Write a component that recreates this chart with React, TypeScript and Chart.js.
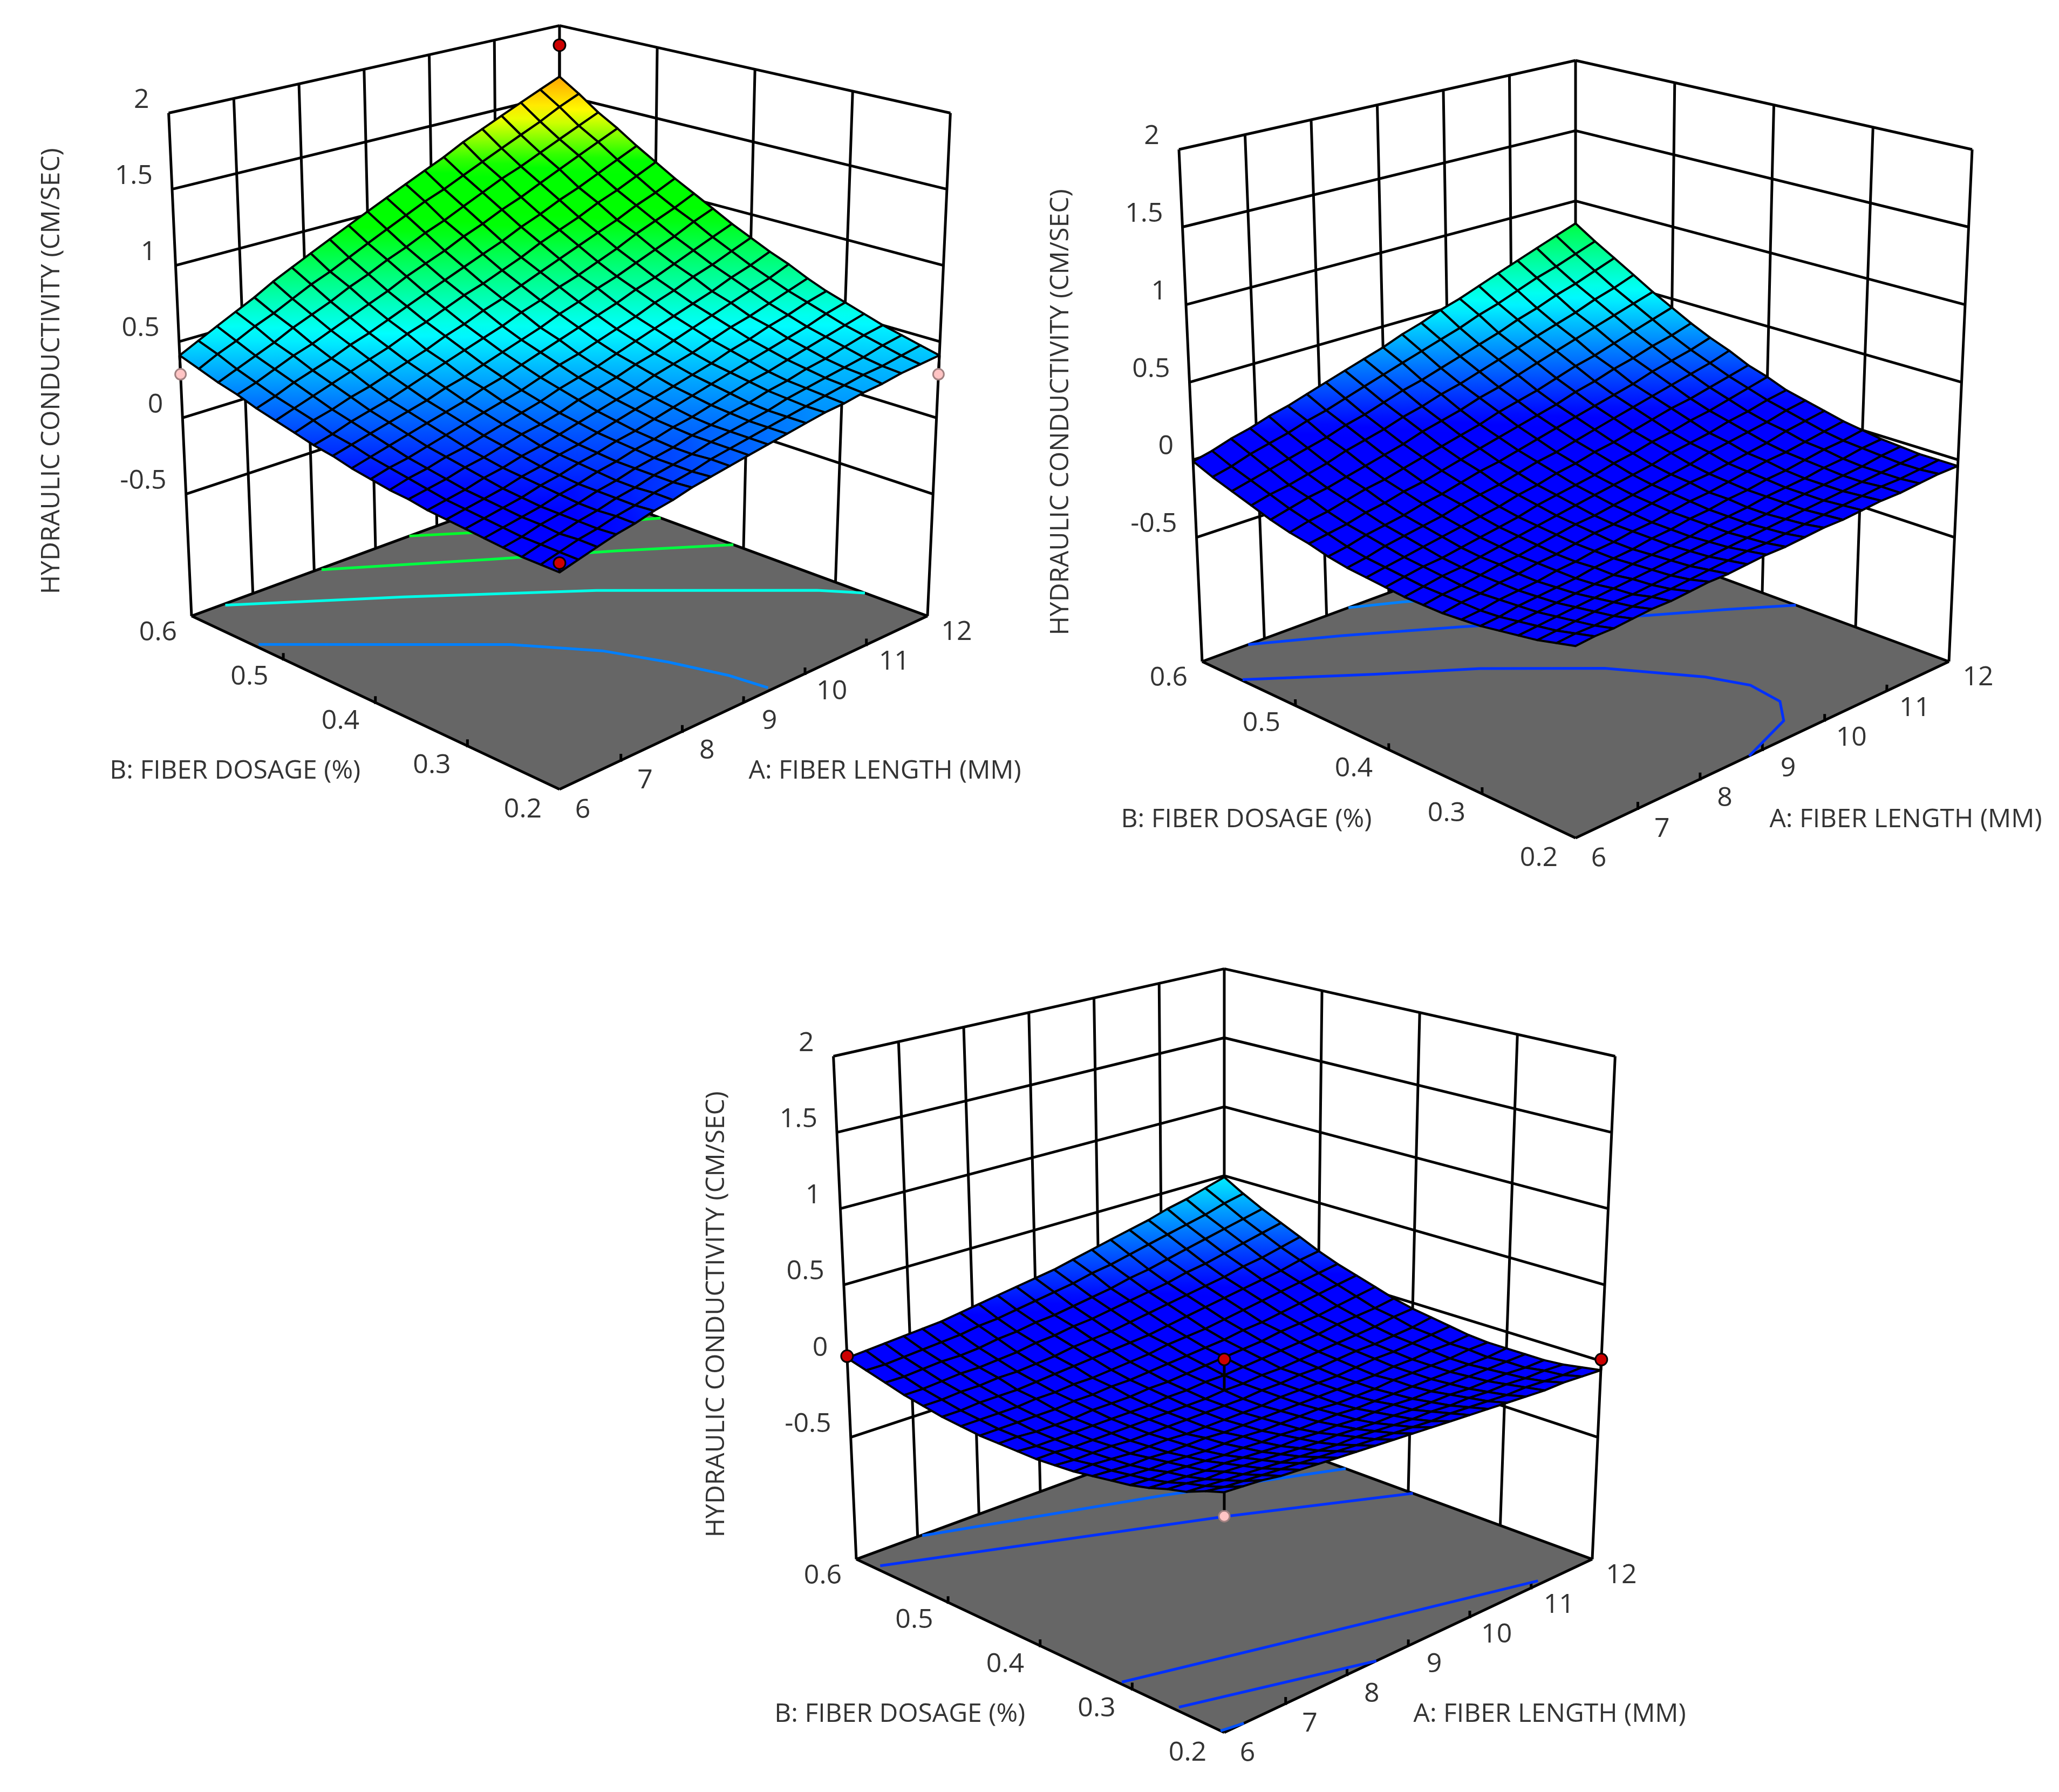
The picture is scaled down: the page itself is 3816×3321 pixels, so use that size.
import React, { useEffect, useRef } from 'react';
import { Chart, registerables } from 'chart.js';

Chart.register(...registerables);

const A_TICKS = [6, 7, 8, 9, 10, 11, 12];
const B_TICKS = [0.2, 0.3, 0.4, 0.5, 0.6];
const Z_TICKS = [-0.5, 0, 0.5, 1, 1.5, 2];
const Z_FLOOR = -1.3;
const Z_TOP = 2;

// rows go from B = 0.2 to B = 0.6, columns from A = 6 to A = 12
const surfaceOne = [
  [0,.03,.06,.09,.11,.14,.16,.19,.21,.23,.25,.27,.29,.31,.33,.34,.36,.37,.39,.40,.41],
  [0,.03,.06,.08,.11,.13,.16,.18,.20,.23,.25,.27,.29,.31,.33,.35,.37,.39,.40,.42,.44],
  [0,.03,.05,.08,.10,.13,.15,.18,.20,.22,.25,.27,.29,.31,.34,.36,.38,.40,.42,.45,.47],
  [.01,.03,.06,.08,.10,.13,.15,.18,.20,.22,.25,.27,.30,.32,.35,.37,.40,.42,.45,.48,.50],
  [.02,.04,.06,.08,.11,.13,.16,.18,.21,.23,.26,.28,.31,.34,.37,.39,.42,.45,.48,.51,.54],
  [.03,.05,.07,.09,.12,.14,.17,.19,.22,.24,.27,.30,.33,.36,.39,.42,.45,.48,.51,.55,.58],
  [.04,.06,.08,.10,.13,.15,.18,.20,.23,.26,.29,.32,.35,.38,.41,.45,.48,.52,.55,.59,.62],
  [.05,.07,.09,.12,.14,.17,.19,.22,.25,.28,.31,.34,.38,.41,.44,.48,.52,.55,.59,.63,.67],
  [.07,.09,.11,.14,.16,.19,.22,.24,.27,.31,.34,.37,.41,.44,.48,.52,.56,.60,.64,.68,.73],
  [.08,.11,.13,.16,.18,.21,.24,.27,.30,.34,.37,.40,.44,.48,.52,.56,.60,.64,.69,.73,.78],
  [.10,.13,.15,.18,.21,.24,.27,.30,.33,.37,.41,.44,.48,.52,.56,.61,.65,.70,.74,.79,.84],
  [.12,.15,.18,.21,.24,.27,.30,.34,.37,.41,.45,.49,.53,.57,.61,.66,.70,.75,.80,.85,.90],
  [.15,.18,.21,.24,.27,.30,.34,.37,.41,.45,.49,.53,.58,.62,.67,.71,.76,.81,.86,.92,.97],
  [.17,.20,.24,.27,.30,.34,.38,.42,.46,.50,.54,.59,.63,.68,.72,.77,.82,.88,.93,.98,1.04],
  [.20,.24,.27,.31,.34,.38,.42,.46,.51,.55,.60,.64,.69,.74,.79,.84,.89,.94,1.00,1.05,1.11],
  [.23,.27,.31,.35,.39,.43,.47,.52,.56,.61,.66,.70,.75,.80,.86,.91,.96,1.02,1.07,1.13,1.19],
  [.26,.30,.35,.39,.43,.48,.52,.57,.62,.67,.72,.77,.82,.87,.93,.98,1.04,1.09,1.15,1.21,1.27],
  [.30,.34,.39,.44,.48,.53,.58,.63,.68,.74,.79,.84,.90,.95,1.01,1.06,1.12,1.18,1.24,1.30,1.36],
  [.33,.38,.43,.48,.54,.59,.64,.70,.75,.81,.86,.92,.97,1.03,1.09,1.15,1.20,1.26,1.32,1.38,1.44],
  [.37,.43,.48,.54,.59,.65,.71,.76,.82,.88,.94,1.00,1.06,1.11,1.17,1.23,1.29,1.35,1.41,1.48,1.54],
  [.41,.47,.53,.59,.65,.72,.78,.84,.90,.96,1.02,1.08,1.14,1.20,1.26,1.33,1.39,1.45,1.51,1.57,1.63],
];

const surfaceTwo = [
  [-.17,-.16,-.16,-.15,-.14,-.14,-.13,-.12,-.12,-.11,-.10,-.10,-.09,-.08,-.08,-.07,-.06,-.06,-.05,-.04,-.04],
  [-.20,-.19,-.19,-.18,-.17,-.16,-.16,-.15,-.14,-.13,-.12,-.12,-.11,-.10,-.09,-.08,-.07,-.06,-.06,-.05,-.04],
  [-.23,-.22,-.21,-.20,-.19,-.19,-.18,-.17,-.16,-.15,-.14,-.13,-.12,-.11,-.10,-.09,-.08,-.07,-.06,-.05,-.04],
  [-.25,-.24,-.23,-.22,-.21,-.20,-.19,-.18,-.17,-.16,-.15,-.14,-.13,-.12,-.10,-.09,-.08,-.07,-.06,-.04,-.03],
  [-.27,-.26,-.25,-.24,-.23,-.22,-.21,-.19,-.18,-.17,-.16,-.14,-.13,-.12,-.10,-.09,-.08,-.06,-.05,-.03,-.02],
  [-.29,-.28,-.26,-.25,-.24,-.23,-.21,-.20,-.19,-.17,-.16,-.14,-.13,-.11,-.10,-.08,-.07,-.05,-.03,-.02,0],
  [-.30,-.29,-.27,-.26,-.25,-.23,-.22,-.20,-.19,-.17,-.16,-.14,-.12,-.11,-.09,-.07,-.05,-.04,-.02,0,.02],
  [-.31,-.29,-.28,-.26,-.25,-.23,-.22,-.20,-.18,-.17,-.15,-.13,-.11,-.09,-.08,-.06,-.04,-.02,.01,.03,.05],
  [-.31,-.29,-.28,-.26,-.24,-.23,-.21,-.19,-.17,-.16,-.14,-.12,-.10,-.08,-.06,-.03,-.01,.01,.03,.06,.08],
  [-.31,-.29,-.27,-.26,-.24,-.22,-.20,-.18,-.16,-.14,-.12,-.10,-.08,-.06,-.03,-.01,.01,.04,.06,.09,.11],
  [-.30,-.28,-.26,-.25,-.23,-.21,-.19,-.17,-.14,-.12,-.10,-.08,-.05,-.03,0,.02,.05,.07,.10,.13,.16],
  [-.29,-.27,-.25,-.23,-.21,-.19,-.17,-.15,-.12,-.10,-.07,-.05,-.02,0,.03,.06,.09,.11,.14,.17,.20],
  [-.28,-.26,-.23,-.21,-.19,-.17,-.14,-.12,-.10,-.07,-.04,-.02,.01,.04,.07,.10,.13,.16,.19,.22,.26],
  [-.26,-.24,-.21,-.19,-.17,-.14,-.12,-.09,-.06,-.04,-.01,.02,.05,.08,.11,.14,.17,.21,.24,.27,.31],
  [-.23,-.21,-.19,-.16,-.14,-.11,-.09,-.06,-.03,0,.03,.06,.09,.12,.16,.19,.23,.26,.30,.33,.37],
  [-.21,-.18,-.16,-.13,-.10,-.08,-.05,-.02,.01,.04,.07,.11,.14,.17,.21,.25,.28,.32,.36,.40,.44],
  [-.18,-.15,-.12,-.10,-.07,-.04,-.01,.02,.06,.09,.12,.16,.19,.23,.27,.31,.35,.39,.43,.47,.51],
  [-.14,-.11,-.09,-.06,-.03,.01,.04,.07,.11,.14,.18,.21,.25,.29,.33,.37,.41,.45,.50,.54,.59],
  [-.10,-.07,-.04,-.01,.02,.05,.09,.12,.16,.20,.23,.27,.31,.35,.39,.44,.48,.53,.57,.62,.67],
  [-.06,-.03,.01,.04,.07,.11,.14,.18,.22,.26,.30,.34,.38,.42,.47,.51,.56,.61,.65,.70,.75],
  [-.01,.02,.06,.09,.13,.16,.20,.24,.28,.32,.36,.41,.45,.50,.54,.59,.64,.69,.74,.79,.84],
];

const surfaceThree = [
  [.14,.13,.12,.10,.09,.08,.07,.06,.05,.04,.03,.02,.01,0,-.01,-.02,-.03,-.04,-.04,-.05,-.06],
  [.10,.08,.07,.06,.05,.04,.03,.02,.01,0,-.01,-.02,-.03,-.03,-.04,-.05,-.06,-.06,-.07,-.08,-.08],
  [.05,.04,.03,.02,.01,0,-.01,-.02,-.03,-.03,-.04,-.05,-.06,-.06,-.07,-.07,-.08,-.08,-.09,-.09,-.10],
  [.02,.01,-.01,-.01,-.02,-.03,-.04,-.05,-.06,-.06,-.07,-.08,-.08,-.09,-.09,-.09,-.10,-.10,-.10,-.11,-.11],
  [-.02,-.03,-.04,-.05,-.05,-.06,-.07,-.08,-.08,-.09,-.09,-.10,-.10,-.10,-.11,-.11,-.11,-.11,-.11,-.11,-.11],
  [-.05,-.06,-.06,-.07,-.08,-.09,-.09,-.10,-.10,-.11,-.11,-.11,-.12,-.12,-.12,-.12,-.12,-.12,-.12,-.12,-.11],
  [-.07,-.08,-.09,-.09,-.10,-.11,-.11,-.11,-.12,-.12,-.12,-.12,-.13,-.13,-.13,-.12,-.12,-.12,-.12,-.11,-.11],
  [-.09,-.10,-.11,-.11,-.12,-.12,-.12,-.13,-.13,-.13,-.13,-.13,-.13,-.13,-.13,-.13,-.12,-.12,-.11,-.11,-.10],
  [-.11,-.11,-.12,-.13,-.13,-.13,-.14,-.14,-.14,-.14,-.14,-.13,-.13,-.13,-.13,-.12,-.11,-.11,-.10,-.09,-.08],
  [-.12,-.13,-.13,-.13,-.14,-.14,-.14,-.14,-.14,-.14,-.14,-.13,-.13,-.12,-.12,-.11,-.10,-.10,-.09,-.08,-.06],
  [-.13,-.13,-.14,-.14,-.14,-.14,-.14,-.14,-.14,-.14,-.13,-.13,-.12,-.12,-.11,-.10,-.09,-.08,-.07,-.05,-.04],
  [-.13,-.14,-.14,-.14,-.14,-.14,-.14,-.14,-.13,-.13,-.12,-.12,-.11,-.10,-.09,-.08,-.07,-.05,-.04,-.03,-.01],
  [-.13,-.13,-.14,-.14,-.14,-.13,-.13,-.13,-.12,-.12,-.11,-.10,-.09,-.08,-.07,-.05,-.04,-.03,-.01,.01,.03],
  [-.13,-.13,-.13,-.13,-.13,-.12,-.12,-.11,-.11,-.10,-.09,-.08,-.07,-.06,-.04,-.03,-.01,.01,.03,.05,.07],
  [-.12,-.12,-.12,-.12,-.11,-.11,-.10,-.10,-.09,-.08,-.07,-.05,-.04,-.03,-.01,.01,.03,.05,.07,.09,.11],
  [-.11,-.11,-.10,-.10,-.10,-.09,-.08,-.07,-.06,-.05,-.04,-.03,-.01,.01,.03,.05,.07,.09,.11,.14,.16],
  [-.09,-.09,-.08,-.08,-.07,-.07,-.06,-.05,-.03,-.02,-.01,.01,.03,.05,.07,.09,.11,.14,.16,.19,.22],
  [-.07,-.07,-.06,-.05,-.05,-.04,-.03,-.01,0,.02,.03,.05,.07,.09,.11,.14,.16,.19,.22,.25,.28],
  [-.04,-.04,-.03,-.02,-.02,-.01,.01,.02,.04,.05,.07,.09,.11,.14,.16,.19,.22,.25,.28,.31,.34],
  [-.01,-.01,0,.01,.02,.03,.05,.06,.08,.10,.12,.14,.17,.19,.22,.25,.28,.31,.34,.38,.41],
  [.02,.03,.04,.05,.06,.07,.09,.11,.13,.15,.17,.19,.22,.25,.28,.31,.34,.38,.41,.45,.49],
];

// floor contours: [A, B] pairs
const contoursOne = [
  { color: '#0080ff', points: [[6.06,.531],[7.33,.458],[8.23,.402],[8.86,.344],[9.17,.293],[9.39,.242],[9.46,.204]] },
  { color: '#00ffe8', points: [[6.52,.598],[8.26,.52],[9.99,.426],[11.7,.3],[12,.268]] },
  { color: '#00ff40', points: [[8.09,.598],[9.78,.524],[10.95,.469],[12,.411]] },
  { color: '#00ff28', points: [[9.55,.6],[10.4,.56],[12,.49]] },
];
const contoursTwo = [
  { color: '#0030ff', points: [[6.02,.558],[7.28,.5],[8.27,.454],[9.29,.388],[9.91,.322],[10.1,.286],[10.02,.249],[9.69,.223],[8.79,.2]] },
  { color: '#0040ff', points: [[6.74,.6],[7.74,.566],[8.92,.518],[10.7,.432],[11.37,.399],[12,.364]] },
  { color: '#0080ff', points: [[8.35,.6],[8.92,.581],[10.2,.53],[12,.45]] },
];
const contoursThree = [
  { color: '#0050ff', points: [[6,.204],[6.32,.2]] },
  { color: '#0030ff', points: [[6.07,.254],[8.48,.2]] },
  { color: '#0030ff', points: [[6.04,.314],[8.65,.262],[11.19,.205]] },
  { color: '#0030ff', points: [[6.09,.58],[10.04,.469],[12,.395]] },
  { color: '#0060ff', points: [[7.06,.599],[10,.53],[12,.468]] },
];

// design points: [A, B, response]
const pointsOne = [[12,.6,1.858],[6,.2,.056],[6,.6,.286],[12,.2,.286]];
const pointsTwo: number[][] = [];
const pointsThree = [[9,.4,.074],[6,.6,.032],[12,.2,.01],[6,.2,-.004]];

const COLOR_Z = [.08, .52, .95, 1.2, 1.45, 1.63, 1.9];
const COLOR_RGB = [[0,0,255],[0,255,255],[0,255,0],[0,255,0],[255,255,0],[255,165,0],[255,0,0]];

const CANVAS_W = 1934;
const CANVAS_H = 1573;
const LINE = 5;

// view of the box, same for all three panels
const project = (a: number, b: number, z: number) => {
  const u = (a - 6) / 6;
  const v = (b - 0.2) / 0.4;
  const w = (z - Z_FLOOR) / (Z_TOP - Z_FLOOR);
  const s = u + v;
  return {
    x: 1038 + 692 * (u - v) * (1 + 0.0622 * w),
    y: 1475 - 327 * s + 72 * u * v - w * (1039 - 90 * s),
  };
};

const colorFor = (z: number) => {
  let k = 0;
  while (k < COLOR_Z.length - 2 && z > COLOR_Z[k + 1]) k++;
  const t = Math.min(1, Math.max(0, (z - COLOR_Z[k]) / (COLOR_Z[k + 1] - COLOR_Z[k])));
  const rgb = COLOR_RGB[k].map((c, n) => Math.round(c + (COLOR_RGB[k + 1][n] - c) * t));
  return `rgb(${rgb.join(',')})`;
};

const GAP = { x: null as any, y: null as any };

const wallSegments = () => {
  const out: any[] = [];
  const seg = (p: any, q: any) => out.push(project(p[0], p[1], p[2]), project(q[0], q[1], q[2]), GAP);
  Z_TICKS.forEach(z => {
    seg([6, .6, z], [12, .6, z]);
    seg([12, .6, z], [12, .2, z]);
  });
  A_TICKS.forEach(a => seg([a, .6, Z_FLOOR], [a, .6, Z_TOP]));
  B_TICKS.slice(0, 4).forEach(b => seg([12, b, Z_FLOOR], [12, b, Z_TOP]));
  seg([6, .2, Z_FLOOR], [12, .2, Z_FLOOR]);
  seg([6, .2, Z_FLOOR], [6, .6, Z_FLOOR]);
  seg([6, .6, Z_FLOOR], [12, .6, Z_FLOOR]);
  seg([12, .2, Z_FLOOR], [12, .6, Z_FLOOR]);
  // small ticks along the two front edges of the floor
  A_TICKS.slice(1, 6).forEach(a => seg([a, .2, Z_FLOOR], [a, .2, Z_FLOOR + .04]));
  B_TICKS.slice(1, 4).forEach(b => seg([6, b, Z_FLOOR], [6, b, Z_FLOOR + .04]));
  return out;
};

const A_LABEL_OFFSET = [[43,39],[45,38],[46,36],[48,35],[50,33],[52,32],[54,30]];
const B_LABEL_OFFSET = [[-68,38],[-66,36],[-65,35],[-63,33],[-62,31]];

const surfacePlugin = {
  id: 'surfacePlugin',
  beforeDatasetsDraw(chart: any) {
    const { ctx, scales } = chart;
    const px = (a: number, b: number) => {
      const p = project(a, b, Z_FLOOR);
      return [scales.x.getPixelForValue(p.x), scales.y.getPixelForValue(p.y)];
    };
    ctx.save();
    ctx.fillStyle = '#666666';
    ctx.beginPath();
    [[6, .2], [12, .2], [12, .6], [6, .6]].forEach(([a, b], n) => {
      const [x, y] = px(a, b);
      if (n === 0) ctx.moveTo(x, y);
      else ctx.lineTo(x, y);
    });
    ctx.closePath();
    ctx.fill();
    ctx.restore();
  },
  afterDatasetDraw(chart: any, args: any) {
    const dataset = chart.data.datasets[args.index];
    if (!dataset.surface) return;
    const { ctx } = chart;
    const pts = args.meta.data;
    const table = dataset.surface as number[][];
    const n = table[0].length;
    ctx.save();
    ctx.strokeStyle = '#000000';
    ctx.lineWidth = 4;
    ctx.lineJoin = 'round';
    for (let j = table.length - 2; j >= 0; j--) {
      for (let i = n - 2; i >= 0; i--) {
        const corners = [[j, i], [j, i + 1], [j + 1, i + 1], [j + 1, i]];
        const el = corners.map(([r, c]) => pts[r * n + c]);
        const zs = corners.map(([r, c]) => table[r][c]);
        const hi = zs.indexOf(Math.max(...zs));
        const lo = zs.indexOf(Math.min(...zs));
        const grad = ctx.createLinearGradient(el[lo].x, el[lo].y, el[hi].x, el[hi].y + 0.01);
        grad.addColorStop(0, colorFor(zs[lo]));
        grad.addColorStop(0.5, colorFor((zs[lo] + zs[hi]) / 2));
        grad.addColorStop(1, colorFor(zs[hi]));
        ctx.fillStyle = grad;
        ctx.beginPath();
        el.forEach((p: any, k: number) => (k === 0 ? ctx.moveTo(p.x, p.y) : ctx.lineTo(p.x, p.y)));
        ctx.closePath();
        ctx.fill();
        ctx.stroke();
      }
    }
    ctx.restore();
  },
  afterDraw(chart: any) {
    const { ctx, scales } = chart;
    const at = (a: number, b: number, z: number) => {
      const p = project(a, b, z);
      return [scales.x.getPixelForValue(p.x), scales.y.getPixelForValue(p.y)];
    };
    ctx.save();
    ctx.fillStyle = '#333333';
    ctx.font = '50px "Open Sans"';
    ctx.textBaseline = 'middle';
    ctx.textAlign = 'right';
    Z_TICKS.forEach(z => {
      const [x, y] = at(6, .6, z);
      ctx.fillText(String(z), x - 36, y - 24);
    });
    ctx.textAlign = 'center';
    A_TICKS.forEach((a, n) => {
      const [x, y] = at(a, .2, Z_FLOOR);
      ctx.fillText(String(a), x + A_LABEL_OFFSET[n][0], y + A_LABEL_OFFSET[n][1]);
    });
    B_TICKS.forEach((b, n) => {
      const [x, y] = at(6, b, Z_FLOOR);
      ctx.fillText(b.toFixed(1), x + B_LABEL_OFFSET[n][0], y + B_LABEL_OFFSET[n][1]);
    });
    ctx.font = '48px "Open Sans"';
    ctx.fillText('B: FIBER DOSAGE (%)', scales.x.getPixelForValue(428), scales.y.getPixelForValue(1441));
    ctx.fillText('A: FIBER LENGTH (MM)', scales.x.getPixelForValue(1650), scales.y.getPixelForValue(1441));
    ctx.translate(scales.x.getPixelForValue(84), scales.y.getPixelForValue(686));
    ctx.rotate(-Math.PI / 2);
    ctx.fillText('HYDRAULIC CONDUCTIVITY (CM/SEC)', 0, 0);
    ctx.restore();
  },
};

interface PanelProps {
  surface: number[][];
  contours: { color: string; points: number[][] }[];
  designPoints: number[][];
  left: number;
  top: number;
}

const Panel: React.FC<PanelProps> = ({ surface, contours, designPoints, left, top }) => {
  const canvasRef = useRef<HTMLCanvasElement>(null);

  useEffect(() => {
    if (!canvasRef.current) return;

    const lookup = (a: number, b: number) =>
      surface[Math.round(((b - .2) / .4) * 20)][Math.round(((a - 6) / 6) * 20)];

    const line = { showLine: true, pointRadius: 0, tension: 0, spanGaps: false };
    const meshPoints = surface.flatMap((row, j) =>
      row.map((z, i) => project(6 + (6 * i) / 20, .2 + (.4 * j) / 20, z))
    );
    const drops = designPoints.flatMap(([a, b, z]) => [project(a, b, z), project(a, b, lookup(a, b)), GAP]);
    const above = designPoints.filter(([a, b, z]) => z >= lookup(a, b));
    const below = designPoints.filter(([a, b, z]) => z < lookup(a, b));

    const chart = new Chart(canvasRef.current, {
      type: 'scatter',
      data: {
        datasets: [
          { ...line, label: 'walls', data: wallSegments(), borderColor: '#000000', borderWidth: LINE, order: 9 },
          ...contours.map(c => ({
            ...line,
            label: 'contour',
            data: c.points.map(([a, b]) => project(a, b, Z_FLOOR)),
            borderColor: c.color,
            borderWidth: LINE,
            order: 8,
          })),
          { label: 'surface', surface, data: meshPoints, pointRadius: 0, showLine: false, order: 5 },
          { ...line, label: 'drops', data: drops, borderColor: '#000000', borderWidth: LINE, order: 4 },
          {
            label: 'below',
            data: below.map(([a, b, z]) => project(a, b, z)),
            pointRadius: 10,
            pointBackgroundColor: '#ffc4c4',
            pointBorderColor: '#a08080',
            pointBorderWidth: 3,
            order: 3,
          },
          {
            label: 'above',
            data: above.map(([a, b, z]) => project(a, b, z)),
            pointRadius: 11,
            pointBackgroundColor: '#cc0000',
            pointBorderColor: '#000000',
            pointBorderWidth: 3,
            order: 2,
          },
        ] as any,
      },
      options: {
        animation: false,
        responsive: false,
        devicePixelRatio: 1,
        layout: { padding: 0 },
        events: [],
        scales: {
          x: { type: 'linear', display: false, min: 0, max: CANVAS_W },
          y: { type: 'linear', display: false, min: 0, max: CANVAS_H, reverse: true },
        },
        plugins: { legend: { display: false }, tooltip: { enabled: false } },
      },
      plugins: [surfacePlugin],
    });

    return () => chart.destroy();
  }, [surface, contours, designPoints]);

  return (
    <canvas
      ref={canvasRef}
      width={CANVAS_W}
      height={CANVAS_H}
      style={{ position: 'absolute', left, top, width: CANVAS_W, height: CANVAS_H }}
    />
  );
};

export default function App() {
  return (
    <div style={{ position: 'absolute', left: 0, top: 0, width: 3816, height: 3321, overflow: 'hidden', background: '#ffffff' }}>
      <Panel surface={surfaceOne} contours={contoursOne} designPoints={pointsOne} left={0} top={0} />
      <Panel surface={surfaceTwo} contours={contoursTwo} designPoints={pointsTwo} left={1882} top={78} />
      <Panel surface={surfaceThree} contours={contoursThree} designPoints={pointsThree} left={1232} top={1748} />
    </div>
  );
}
